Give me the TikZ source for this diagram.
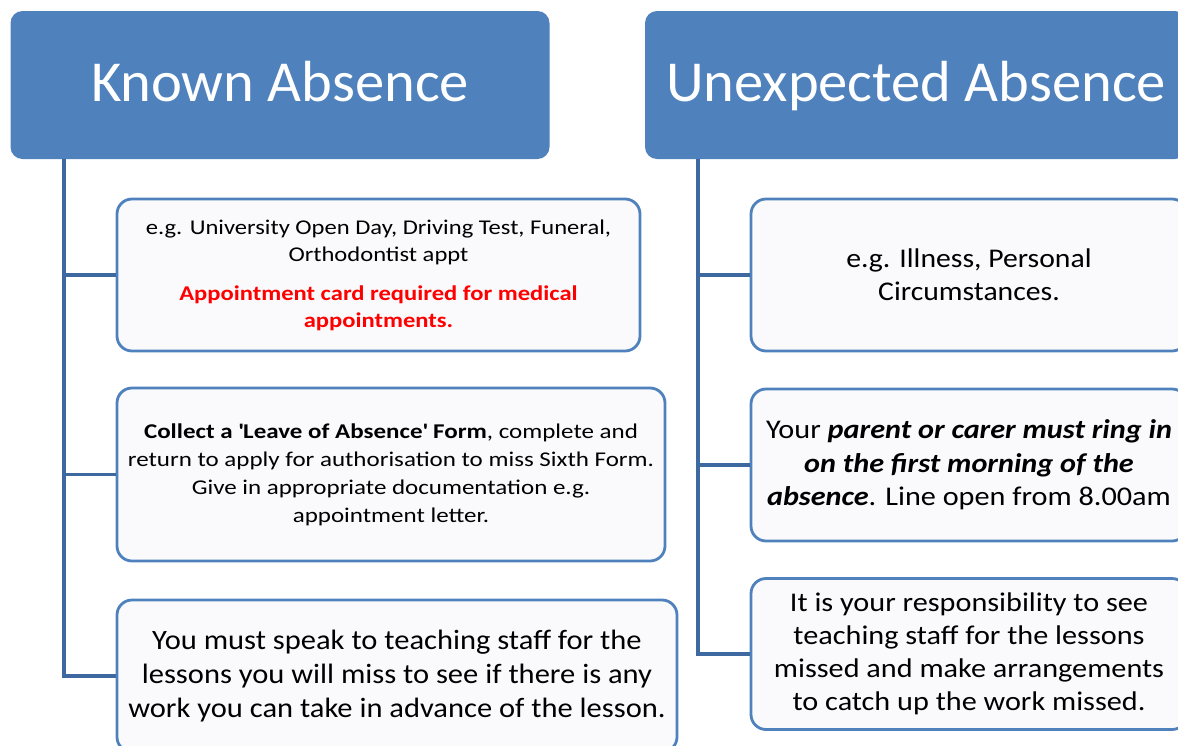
\documentclass[tikz,border=0pt]{standalone}
\usepackage{fontspec}
\setmainfont{Carlito}
\definecolor{hdrblue}{RGB}{79,129,189}
\definecolor{edgeblue}{RGB}{79,129,189}
\definecolor{linkblue}{RGB}{62,104,160}
\definecolor{boxfill}{RGB}{250,250,252}
\definecolor{redtxt}{RGB}{255,0,0}
\newcommand{\wide}[1]{\addfontfeatures{FakeStretch=#1}}
\tikzset{
  hdr/.style={rectangle, rounded corners=12pt, fill=hdrblue, draw=none, text=white,
    minimum width=539pt, minimum height=148pt, font=\fontsize{58}{70}\selectfont\wide{1.01},
    inner sep=0pt, text height=38pt, text depth=6pt},
  infobox/.style={rectangle, rounded corners=15pt, fill=boxfill, draw=edgeblue, line width=2.8pt,
    align=center, inner sep=0pt, text=black},
  link/.style={draw=linkblue, line width=3.2pt}
}
\begin{document}
\begin{tikzpicture}[x=1pt,y=-1pt]
\useasboundingbox (0,0) rectangle (1178,745);
\clip (0,0) rectangle (1178,745);
% headers
\node[hdr] (h1) at (280,85) {Known Absence};
\node[hdr, minimum width=542pt] (h2) at (916,85) {Unexpected Absence};
% left boxes
\node[infobox, minimum width=523pt, minimum height=152pt, font=\fontsize{21}{27}\selectfont\wide{1.17}] (l1) at (378.5,275)
  {e.g. University Open Day, Driving Test, Funeral,\\ Orthodontist appt\\[12pt]
   \color{redtxt}\bfseries Appointment card required for medical\\ \color{redtxt}\bfseries appointments.};
\node[infobox, minimum width=548pt, minimum height=173pt, font=\fontsize{21}{28}\selectfont\wide{1.19}] (l2) at (391,474.5)
  {\textbf{Collect a \textquotesingle Leave of Absence\textquotesingle\ Form}, complete and\\ return to apply for authorisation to miss Sixth Form.\\ Give in appropriate documentation e.g.\\ appointment letter.};
\node[infobox, minimum width=560pt, minimum height=152pt, font=\fontsize{28}{34}\selectfont\wide{1.09}] (l3) at (397,676)
  {You must speak to teaching staff for the\\ lessons you will miss to see if there is any\\ work you can take in advance of the lesson.};
% right boxes
\node[infobox, minimum width=436pt, minimum height=152pt, font=\fontsize{27}{33}\selectfont\wide{1.10}] (r1) at (969,275)
  {e.g. Illness, Personal\\ Circumstances.};
\node[infobox, minimum width=436pt, minimum height=152pt, font=\fontsize{27}{33.5}\selectfont\wide{1.12}] (r2) at (969,465)
  {Your \textbf{\textit{parent or carer must ring in}}\\ \textbf{\textit{on the first morning of the}}\\ \textbf{\textit{absence}}. Line open from 8.00am};
\node[infobox, minimum width=436pt, minimum height=151pt, font=\fontsize{27}{33}\selectfont\wide{1.12}] (r3) at (969,654)
  {It is your responsibility to see\\ teaching staff for the lessons\\ missed and make arrangements\\ to catch up the work missed.};
% connectors
\coordinate (tl) at (64,159);
\coordinate (tr) at (698,159);
\draw[link] (tl) |- (l1.west);
\draw[link] (tl) |- (l2.west);
\draw[link] (tl) |- (l3.west);
\draw[link] (tr) |- (r1.west);
\draw[link] (tr) |- (r2.west);
\draw[link] (tr) |- (r3.west);
\end{tikzpicture}
\end{document}
